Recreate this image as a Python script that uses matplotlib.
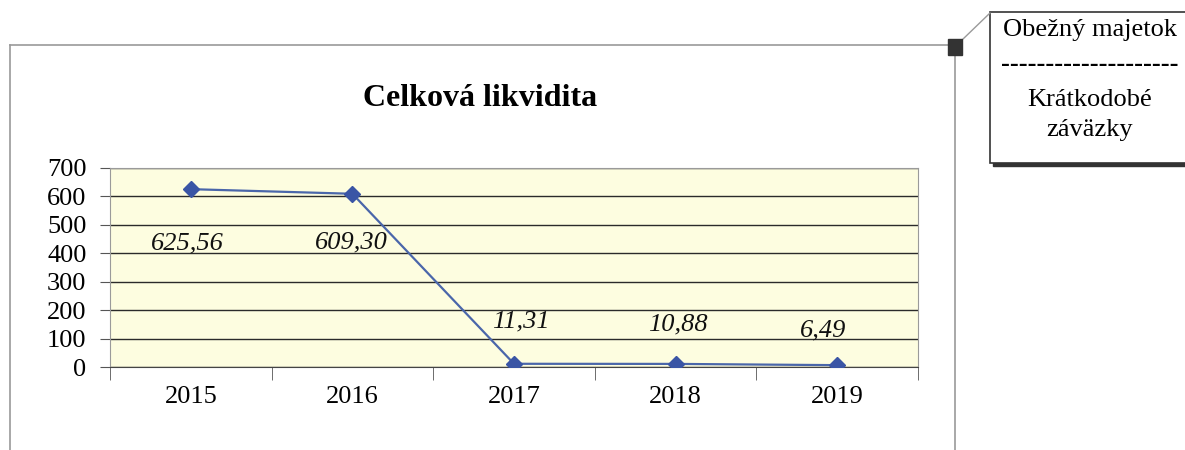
import matplotlib.pyplot as plt
from matplotlib.lines import Line2D
from matplotlib.patches import Rectangle
import numpy as np

# Hodnoty celkovej likvidity
roky = ["2015", "2016", "2017", "2018", "2019"]
likvidita = [625.56, 609.30, 11.31, 10.88, 6.49]
popisky = ["625,56", "609,30", "11,31", "10,88", "6,49"]

# Posun popiskov v pixeloch (x, y)
posuny = [(-3, -54), (-1, -49), (7, 42), (2, 39), (-14, 35)]

W, H = 1185, 450
fig = plt.figure(figsize=(W / 100, H / 100), dpi=100)
plt.rcParams["font.family"] = ["Liberation Serif", "DejaVu Serif"]


def px(x, y):
    return x / W, 1 - y / H


# Vonkajší rámik grafu
sivá = "#9a9a9a"
fig.add_artist(Line2D([10 / W, 10 / W], [0, 1 - 45 / H], color=sivá, lw=1.2))
fig.add_artist(Line2D([10 / W, 955 / W], [1 - 45 / H, 1 - 45 / H], color=sivá, lw=1.2))
fig.add_artist(Line2D([955 / W, 955 / W], [0, 1 - 45 / H], color=sivá, lw=1.2))
fig.add_artist(Rectangle(px(948, 55), 14 / W, 16 / H, color="#333333", zorder=5))

# Popisok vzorca vpravo hore
fig.add_artist(Line2D([962 / W, 990 / W], [1 - 40 / H, 1 - 13 / H], color=sivá, lw=1))
fig.add_artist(Rectangle(px(993, 166), 200 / W, 152 / H, color="#333333"))
fig.add_artist(Rectangle(px(990, 163), 200 / W, 151 / H, facecolor="white",
                         edgecolor="#333333", lw=1.2))
fs_box = 19
fig.text(1090 / W, 1 - 30 / H, "Obežný majetok", ha="center", va="center", fontsize=fs_box)
fig.text(1090 / W, 1 - 65 / H, "--------------------", ha="center", va="center",
         fontsize=fs_box, fontweight="bold")
fig.text(1090 / W, 1 - 100 / H, "Krátkodobé", ha="center", va="center", fontsize=fs_box)
fig.text(1090 / W, 1 - 130 / H, "záväzky", ha="center", va="center", fontsize=fs_box)

fig.text(480 / W, 1 - 98 / H, "Celková likvidita", ha="center", va="center",
         fontsize=23, fontweight="bold")

ax = fig.add_axes([110 / W, 83 / H, 808 / W, 199 / H])
ax.set_facecolor("#fdfde0")
x = np.arange(len(roky))
ax.plot(x, likvidita, color="#4a66aa", lw=1.6, marker="D", markersize=8,
        markerfacecolor="#3a55a5", markeredgecolor="#3a55a5", zorder=3)

for xi, yi, t, (dx, dy) in zip(x, likvidita, popisky, posuny):
    ax.annotate(t, (xi, yi), xytext=(dx, dy), textcoords="offset pixels",
                ha="center", va="center", fontsize=19, style="italic", color="#111111")

ax.set_xlim(-0.5, len(roky) - 0.5)
ax.set_ylim(0, 700)
ax.set_yticks(range(0, 701, 100))
ax.yaxis.grid(True, color="#2a2a2a", lw=1)
ax.set_axisbelow(True)
ax.set_xticks(x)
ax.set_xticklabels(roky)
ax.set_xticks(np.arange(-0.5, len(roky)), minor=True)
ax.tick_params(axis="x", which="major", length=0, pad=14, labelsize=19)
ax.tick_params(axis="x", which="minor", length=9, color="#555555")
ax.tick_params(axis="y", length=7, pad=10, labelsize=19, color="#555555")
for s in ["top", "right", "left"]:
    ax.spines[s].set_color(sivá)
ax.spines["bottom"].set_color("#444444")

fig.savefig("out.png", dpi=100)
